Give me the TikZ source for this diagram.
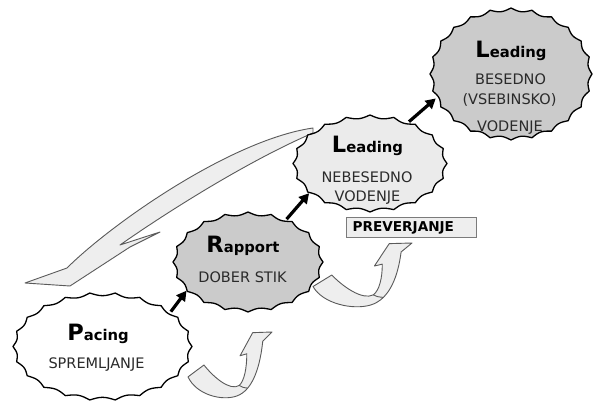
\documentclass[tikz,border=0pt]{standalone}
\usepackage{fontspec}
\setmainfont{DejaVu Sans}
\usetikzlibrary{arrows.meta,shapes.geometric}
\definecolor{cloudgray}{HTML}{CBCBCB}
\definecolor{cloudlight}{HTML}{EBEBEB}
\definecolor{arrowfill}{HTML}{EEEEEE}
\definecolor{arrowline}{HTML}{5A5A5A}
\definecolor{txtgray}{HTML}{2A2A2A}
\newcommand{\cloudtitle}[2]{{\fontsize{22.5}{24}\selectfont #1}{\fontsize{14.8}{17}\selectfont #2}}
\newcommand{\wavycloud}[7]{\draw[cloudline,fill=#6] plot[domain=0:360,samples=#7,variable=\t] ({#1+(#3-3.2*abs(sin(#5*\t/2)))*cos(\t)},{#2+(#4-3.2*abs(sin(#5*\t/2)))*sin(\t)}) -- cycle;}
\newcommand{\curvedup}[4]{%
\begin{scope}[xshift=#1pt,yshift=-#2pt,x=#3pt,y=-#4pt]
\draw[blockarrow] (0.19,0.50) -- (0,0.68)
  .. controls (0.10,0.95) and (0.40,1.05) .. (0.58,0.97)
  .. controls (0.78,0.88) and (0.86,0.50) .. (0.89,0.14)
  -- (1.0,0.0) -- (0.77,0.01) -- (0.62,0.36) -- (0.70,0.33)
  .. controls (0.70,0.55) and (0.67,0.74) .. (0.61,0.81)
  .. controls (0.50,0.90) and (0.30,0.68) .. (0.19,0.50) -- cycle;
\draw[arrowline,line width=0.9pt] (0.61,0.81) .. controls (0.65,0.84) .. (0.71,0.85);
\end{scope}}
\begin{document}
\begin{tikzpicture}[x=1pt,y=-1pt,
 cloudline/.style={draw=black,line width=1.3pt,line join=round},
 anchorell/.style={ellipse,inner sep=0pt,outer sep=0pt},
 titletext/.style={anchor=base,inner sep=0pt,font=\bfseries,text=black},
 subtext/.style={anchor=base,inner sep=0pt,font=\fontsize{14.5}{17}\selectfont,text=txtgray},
 blockarrow/.style={fill=arrowfill,draw=arrowline,line width=0.9pt,line join=round},
 linkarrow/.style={line width=3.2pt,-{Triangle[length=10pt,width=10.5pt]}},
 checkbox/.style={rectangle,draw=arrowline!80,fill=arrowfill,line width=1pt,minimum height=20pt,text width=118pt,align=left,inner xsep=6pt,inner ysep=0pt,font=\fontsize{13.6}{15}\selectfont\bfseries,text=black}]
\fill[white] (0,0) rectangle (595,401);
\useasboundingbox (0,0) rectangle (595,401);

% big curved return arrow
\draw[blockarrow] (313,128) .. controls (230,140) and (110,225) .. (67,268)
  -- (25,283) -- (70,286) -- (130,247) -- (160,232) -- (120,245)
  .. controls (170,210) and (250,160) .. (313,133) -- cycle;

% small curved arrows
\curvedup{188}{332}{84}{66}
\curvedup{313}{243}{99}{64}

% clouds
\wavycloud{102.5}{346.5}{89.5}{54}{22}{white}{177}
\wavycloud{248}{262}{75}{50}{20}{cloudgray}{161}
\wavycloud{370}{163.5}{77}{48.5}{20}{cloudlight}{161}
\wavycloud{511}{74}{81}{66}{24}{cloudgray}{193}

% anchor ellipses for connectors
\node[anchorell,minimum width=179pt,minimum height=108pt] (pac) at (102.5,346.5) {};
\node[anchorell,minimum width=150pt,minimum height=100pt] (rap) at (248,262) {};
\node[anchorell,minimum width=154pt,minimum height=97pt] (ldn) at (370,163.5) {};
\node[anchorell,minimum width=162pt,minimum height=132pt] (ldb) at (511,74) {};

% texts
\node[titletext] (pacT) at (98,340) {\cloudtitle{P}{acing}};
\node[subtext] (pacS) at (96.5,368) {SPREMLJANJE};
\node[titletext] (rapT) at (243,253) {\cloudtitle{R}{apport}};
\node[subtext] (rapS) at (242.5,283) {DOBER STIK};
\node[titletext] (ldnT) at (367.5,153) {\cloudtitle{L}{eading}};
\node[subtext] (ldnS) at (367,183) {NEBESEDNO};
\node[subtext] (ldnV) at (367.5,202) {VODENJE};
\node[titletext] (ldbT) at (511,58) {\cloudtitle{L}{eading}};
\node[subtext] (ldbS) at (510.5,85) {BESEDNO};
\node[subtext] (ldbP) at (509.5,105) {(VSEBINSKO)};
\node[subtext] (ldbV) at (510,132) {VODENJE};

\node[checkbox] (check) at (411.7,228) {PREVERJANJE};

% connectors
\draw[linkarrow] (pac.27) -- (rap.205);
\draw[linkarrow] (rap.48) -- (ldn.206.6);
\draw[linkarrow] (ldn.47.6) -- (ldb.198.2);
\end{tikzpicture}
\end{document}
